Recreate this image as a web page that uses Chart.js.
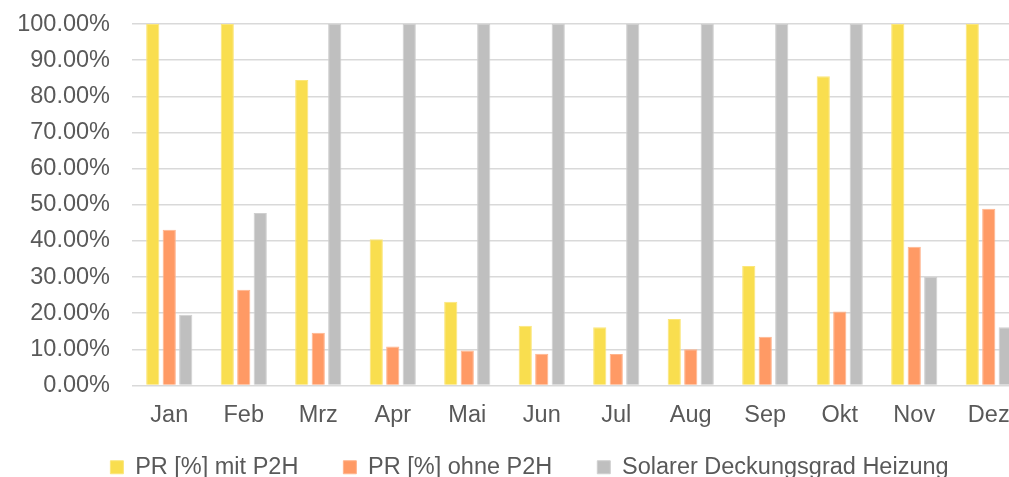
<!DOCTYPE html>
<html>
<head>
<meta charset="utf-8">
<script src="https://cdn.jsdelivr.net/npm/chart.js@4"></script>
<style>
  html, body { margin: 0; padding: 0; background: #fff; overflow: hidden; }
  /* the reference is cropped: the plot runs past the right edge */
  #wrap { position: relative; top: -12px; width: 1060px; height: 501px; }
</style>
</head>
<body>
<div id="wrap"><canvas id="grafico"></canvas></div>
<script>
// Monate (Kategorien)
const monate = ['Jan', 'Feb', 'Mrz', 'Apr', 'Mai', 'Jun', 'Jul', 'Aug', 'Sep', 'Okt', 'Nov', 'Dez'];

// Werte in Prozent
const prMitP2H = [100, 100, 84.5, 40.5, 23.2, 16.5, 16.1, 18.4, 33.1, 85.6, 100, 100];
const prOhneP2H = [43.1, 26.5, 14.6, 10.8, 9.7, 8.8, 8.7, 10.0, 13.5, 20.5, 38.4, 48.9];
const deckungsgrad = [19.6, 47.7, 100, 100, 100, 100, 100, 100, 100, 100, 30.0, 16.1];

// Achsenbeschriftung Y
const yTicks = [0, 10, 20, 30, 40, 50, 60, 70, 80, 90, 100];

const schrift = { family: "'Liberation Sans', Arial, sans-serif", size: 23.5 };
const grau = '#595959';

// Legende näher an die Achse rücken (weniger Höhe, nach oben verschoben)
const versatz = 25;
const legendeVersatz = {
    id: 'legendeVersatz',
    afterInit(chart) {
        const legend = chart.legend;
        const fit = legend.fit;
        legend.fit = function () {
            fit.call(this);
            this.height -= versatz;
        };
    },
    afterLayout(chart) {
        // nur top verschieben, bottom bleibt (sonst wird der Text abgeschnitten)
        chart.legend.top -= versatz;
        // etwas nach rechts, wie im Original
        chart.legend.left += 8;
        chart.legend.right += 8;
    }
};

const ctx = document.getElementById('grafico').getContext('2d');

new Chart(ctx, {
    type: 'bar',
    data: {
        labels: monate,
        datasets: [
            {
                label: 'PR [%] mit P2H',
                data: prMitP2H,
                backgroundColor: '#F9DE4F',
                borderColor: '#FBE67A',
                borderWidth: 1
            },
            {
                label: 'PR [%] ohne P2H',
                data: prOhneP2H,
                backgroundColor: '#FF9A65',
                borderColor: '#FFB48D',
                borderWidth: 1
            },
            {
                label: 'Solarer Deckungsgrad Heizung',
                data: deckungsgrad,
                backgroundColor: '#BFBFBF',
                borderColor: '#CFCFCF',
                borderWidth: 1
            }
        ]
    },
    options: {
        responsive: true,
        maintainAspectRatio: false,
        animation: false,
        datasets: {
            bar: { categoryPercentage: 0.664, barPercentage: 0.8 }
        },
        layout: { padding: { top: 0, right: 34, left: 17, bottom: 0 } },
        plugins: {
            legend: {
                position: 'bottom',
                labels: {
                    font: schrift,
                    color: grau,
                    boxWidth: 13,
                    boxHeight: 13,
                    padding: 45
                }
            },
            tooltip: { enabled: false }
        },
        scales: {
            x: {
                grid: { display: false },
                border: { display: false },
                ticks: { font: schrift, color: grau, padding: 8 },
                afterFit: s => { s.height = 50; }
            },
            y: {
                min: 0,
                max: 100,
                afterBuildTicks: scale => { scale.ticks = yTicks.map(v => ({ value: v })); },
                afterFit: s => { s.width = 115; },
                grid: { color: '#D9D9D9', lineWidth: 1.5, drawTicks: false },
                border: { display: false },
                ticks: {
                    font: schrift,
                    color: grau,
                    padding: 22,
                    callback: v => v.toFixed(2) + '%'
                }
            }
        }
    },
    plugins: [legendeVersatz]
});
</script>
</body>
</html>
